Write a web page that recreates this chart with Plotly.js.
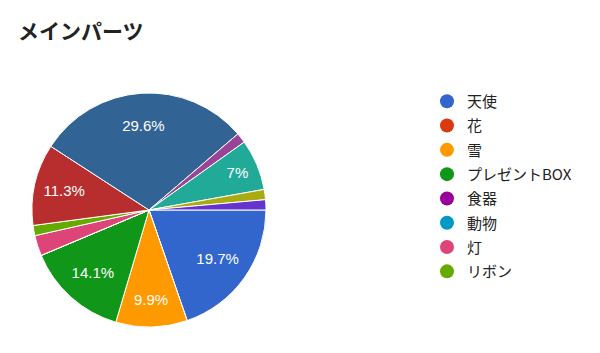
<!DOCTYPE html>
<html>
<head>
<meta charset="utf-8">
<script src="https://cdn.plot.ly/plotly-3.0.1.min.js"></script>
<style>html,body{margin:0;padding:0;background:#fff;}#chart{width:600px;height:353px;}</style>
</head>
<body>
<div id="chart"></div>
<script>
// Data (counts, total 71)
const sliceLabels = ["天使", "花", "雪", "プレゼントBOX", "食器", "動物", "灯", "リボン", "項目9", "項目10", "項目11", "項目12", "項目13", "項目14"];
const sliceValues = [14, 0, 7, 10, 0, 0, 2, 1, 8, 21, 1, 5, 1, 1];
const sliceColors = ["#3366cc", "#dc3912", "#ff9900", "#109618", "#990099", "#0099c6", "#dd4477", "#66aa00", "#b82e2e", "#316395", "#994499", "#22aa99", "#aaaa11", "#6633cc"];
const legendCount = 8; // legend shows the first 8 categories
const chartTitle = "メインパーツ";

const total = sliceValues.reduce((a, b) => a + b, 0);
const sliceText = sliceValues.map(v => {
  const p = Math.round(v / total * 1000) / 10;
  return p >= 5 ? p + "%" : "";
});

const latin = "'Liberation Sans', Arial, 'Noto Sans CJK JP', sans-serif";
const pieDomain = { x: [32 / 600, 266 / 600], y: [(353 - 327) / 353, (353 - 93) / 353] };

const traces = [{
  // visible pie
  type: "pie",
  labels: sliceLabels,
  values: sliceValues,
  textinfo: "none",
  sort: false,
  direction: "clockwise",
  rotation: 90,
  showlegend: false,
  marker: { colors: sliceColors, line: { color: "#ffffff", width: 1 } },
  hoverinfo: "label+value+percent",
  domain: pieDomain
}, {
  // transparent ring carrying the percentage labels (places them at ~0.72 R)
  type: "pie",
  labels: sliceLabels,
  values: sliceValues,
  text: sliceText,
  textinfo: "text",
  textposition: "inside",
  insidetextorientation: "horizontal",
  hole: 0.44,
  sort: false,
  direction: "clockwise",
  rotation: 90,
  showlegend: false,
  marker: { colors: sliceColors.map(() => "rgba(0,0,0,0)"), line: { width: 0 } },
  textfont: { family: latin, size: 15, color: "#ffffff" },
  hoverinfo: "skip",
  domain: pieDomain
}];

for (let i = 0; i < legendCount; i++) {
  traces.push({
    type: "scatter",
    mode: "markers",
    x: [null], y: [null],
    name: sliceLabels[i],
    legendgroup: "g" + i,
    marker: { color: sliceColors[i], size: 14, symbol: "circle" },
    hoverinfo: "skip"
  });
}

const layout = {
  width: 600, height: 353,
  margin: { l: 0, r: 0, t: 0, b: 0 },
  paper_bgcolor: "#ffffff",
  plot_bgcolor: "#ffffff",
  title: {
    text: chartTitle,
    x: 18 / 600, xanchor: "left", xref: "paper",
    y: 1 - 32 / 353, yanchor: "middle", yref: "container",
    font: { family: "'Noto Sans CJK JP', sans-serif", size: 21, color: "#222222", weight: "bold" }
  },
  xaxis: { visible: false },
  yaxis: { visible: false },
  showlegend: true,
  legend: {
    x: 427 / 600, xanchor: "left",
    y: 1 - 85 / 353, yanchor: "top",
    font: { family: "'Noto Sans CJK JP', " + latin, size: 15, color: "#222222" },
    tracegroupgap: 1.8,
    bgcolor: "rgba(0,0,0,0)",
    borderwidth: 0
  }
};

Plotly.newPlot("chart", traces, layout, { displayModeBar: false, staticPlot: true });
</script>
</body>
</html>
